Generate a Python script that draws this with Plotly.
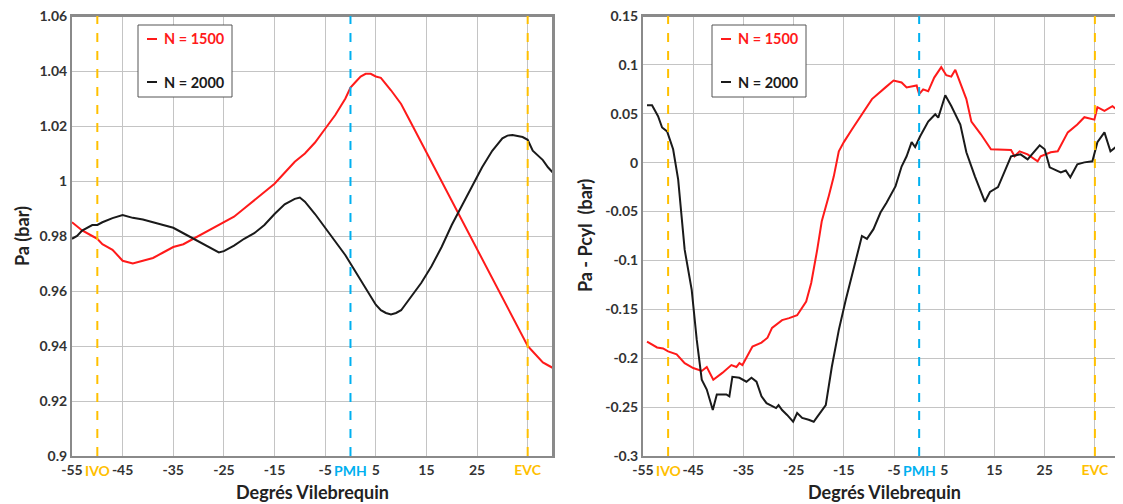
import plotly.graph_objects as go

# ---------------- data ----------------
# Left chart: Pa (bar)
left_x_1500 = [-55, -53, -51, -50, -49, -47, -45, -43, -41, -39, -37, -35, -33, -31, -29, -27, -25, -23, -21, -19,
               -17, -15, -13, -11, -9, -7, -5, -3, -1, 0, 1, 2, 3, 4, 5, 6, 8, 10, 12, 14, 16, 18, 20, 22, 24,
               26, 28, 30, 32, 34, 35, 36, 37, 38, 39, 40]
left_y_1500 = [0.985, 0.982, 0.980, 0.979, 0.977, 0.975, 0.971, 0.970, 0.971, 0.972, 0.974, 0.976, 0.977, 0.979,
               0.981, 0.983, 0.985, 0.987, 0.990, 0.993, 0.996, 0.999, 1.003, 1.007, 1.010, 1.014, 1.019, 1.024,
               1.030, 1.034, 1.036, 1.038, 1.039, 1.039, 1.038, 1.0375, 1.033, 1.028, 1.021, 1.014, 1.007, 1.000,
               0.993, 0.986, 0.979, 0.972, 0.965, 0.958, 0.951, 0.944, 0.940, 0.938, 0.936, 0.934, 0.933, 0.932]

left_x_2000 = [-55, -54, -53, -52, -51, -50, -49, -47, -45, -43, -41, -39, -37, -35, -33, -31, -29, -27, -26, -25,
               -23, -21, -19, -17, -15, -13, -11, -10, -9, -7, -5, -3, -1, 0, 1, 3, 5, 6, 7, 8, 9, 10, 12, 14,
               16, 18, 20, 22, 24, 26, 28, 30, 31, 32, 34, 35, 36, 38, 39, 40]
left_y_2000 = [0.979, 0.980, 0.982, 0.983, 0.984, 0.984, 0.985, 0.9865, 0.9876, 0.9866, 0.986, 0.985, 0.984, 0.983,
               0.981, 0.979, 0.977, 0.975, 0.974, 0.9745, 0.9765, 0.979, 0.981, 0.984, 0.988, 0.9915, 0.9935,
               0.994, 0.9925, 0.988, 0.983, 0.978, 0.973, 0.970, 0.967, 0.961, 0.955, 0.953, 0.952, 0.9515, 0.952,
               0.953, 0.958, 0.963, 0.969, 0.976, 0.984, 0.991, 0.998, 1.005, 1.011, 1.0155, 1.0165, 1.0167,
               1.016, 1.015, 1.011, 1.0076, 1.005, 1.003]

# Right chart: Pa - Pcyl (bar)
right_x_1500 = [-54.2, -52.2, -51, -50, -48.3, -46.7, -45, -43.3, -42.3, -41, -39.2, -37.4, -36.4, -35.8, -35.2,
                -33.2, -31.4, -30.2, -29.3, -27.3, -25.9, -24.3, -22.5, -21.5, -20.3, -19.4, -18, -17, -16, -15,
                -13.4, -11.4, -9.4, -6.7, -5.1, -3.5, -2.5, -0.5, 0, 0.8, 1.8, 3, 4.4, 5.4, 6.4, 7.2, 8.4, 9.4,
                10.4, 12.3, 14.3, 18.3, 19, 20, 21.6, 23.6, 24.2, 26.2, 27.6, 29.6, 31.5, 32.9, 34.9, 35.5, 36.9,
                38.5, 40]
right_y_1500 = [-0.183, -0.189, -0.190, -0.193, -0.196, -0.205, -0.210, -0.213, -0.209, -0.222, -0.215, -0.207,
                -0.209, -0.205, -0.207, -0.188, -0.184, -0.179, -0.169, -0.161, -0.159, -0.156, -0.142, -0.123,
                -0.089, -0.060, -0.034, -0.014, 0.0116, 0.021, 0.034, 0.0495, 0.065, 0.077, 0.084, 0.082, 0.077,
                0.079, 0.070, 0.075, 0.073, 0.087, 0.0977, 0.0895, 0.088, 0.095, 0.078, 0.065, 0.042, 0.029,
                0.0137, 0.013, 0.0065, 0.0116, 0.0085, 0.0014, 0.0065, 0.0106, 0.0116, 0.031, 0.039, 0.0465, 0.044,
                0.0567, 0.053, 0.0577, 0.0516]

right_x_2000 = [-54.2, -53.2, -52, -51.2, -50.2, -49, -48, -47.3, -46.7, -45.3, -44.3, -43.3, -42.3, -41.1, -40.3,
                -38.4, -37.8, -37.2, -35.8, -34.4, -33.4, -32.4, -31.4, -30.4, -28.5, -28, -27.3, -26.3, -25.1,
                -24.3, -23.3, -22, -21, -20.3, -18.6, -17.4, -16, -14.6, -13.4, -12.4, -11.4, -10.4, -9.1, -7.7,
                -6.5, -4.7, -3.5, -2.5, -1.5, -0.8, 0.2, 1.8, 3.2, 3.8, 5.2, 6.4, 8.2, 9.4, 11.1, 13.1, 14.1, 15.7,
                17.1, 18.3, 20.2, 21.6, 24, 25, 26, 27.2, 28.2, 29.2, 30.1, 31.5, 32.9, 34.5, 35.5, 36.9, 38.1,
                39.1, 40]
right_y_2000 = [0.0588, 0.0588, 0.0475, 0.036, 0.032, 0.0137, -0.017, -0.055, -0.089, -0.130, -0.181, -0.222,
                -0.232, -0.253, -0.237, -0.237, -0.239, -0.219, -0.220, -0.224, -0.220, -0.224, -0.239, -0.246,
                -0.251, -0.248, -0.253, -0.258, -0.265, -0.256, -0.261, -0.263, -0.265, -0.260, -0.248, -0.209,
                -0.171, -0.140, -0.115, -0.095, -0.075, -0.078, -0.068, -0.051, -0.041, -0.024, -0.004, 0.0065,
                0.021, 0.016, 0.027, 0.042, 0.0495, 0.046, 0.069, 0.058, 0.039, 0.0106, -0.014, -0.040, -0.030,
                -0.025, -0.009, 0.0065, 0.0085, 0.0034, 0.0178, 0.0137, -0.0048, -0.0078, -0.010, -0.008, -0.015,
                -0.0017, 0.0003, 0.0014, 0.021, 0.031, 0.0116, 0.0157, 0.026]

# Events (crank angle)
event_names = ["IVO", "PMH", "EVC"]
event_angles = [-50, 0, 35]
event_colors = ["#FFC000", "#00B0F0", "#FFC000"]

x_tickvals = [-55, -45, -35, -25, -15, -5, 5, 15, 25, 35]
x_ticktext = ["-55", "-45", "-35", "-25", "-15", "-5", "5", "15", "25",
              '<span style="color:#FFC000">EVC</span>']

left_y_tickvals = [0.9, 0.92, 0.94, 0.96, 0.98, 1.0, 1.02, 1.04, 1.06]
left_y_ticktext = ["0.9", "0.92", "0.94", "0.96", "0.98", "1", "1.02", "1.04", "1.06"]
right_y_tickvals = [-0.3, -0.25, -0.2, -0.15, -0.1, -0.05, 0, 0.05, 0.1, 0.15]
right_y_ticktext = ["-0.3", "-0.25", "-0.2", "-0.15", "-0.1", "-0.05", "0", "0.05", "0.1", "0.15"]

series_names = ["N = 1500", "N = 2000"]
series_colors = ["#FF1A1A", "#1A1A1A"]

FONT = "Lato"
OFF = 8  # page body margin offset
W, H = 1123 - OFF, 504 - OFF


def fx(px):
    return (px - OFF) / W


def fy(py):
    return 1 - (py - OFF) / H


fig = go.Figure()
fig.add_trace(go.Scatter(x=left_x_1500, y=left_y_1500, mode="lines", name=series_names[0],
                         line=dict(color=series_colors[0], width=2), xaxis="x", yaxis="y", showlegend=False))
fig.add_trace(go.Scatter(x=left_x_2000, y=left_y_2000, mode="lines", name=series_names[1],
                         line=dict(color=series_colors[1], width=2), xaxis="x", yaxis="y", showlegend=False))
fig.add_trace(go.Scatter(x=right_x_1500, y=right_y_1500, mode="lines", name=series_names[0],
                         line=dict(color=series_colors[0], width=2), xaxis="x2", yaxis="y2", showlegend=False))
fig.add_trace(go.Scatter(x=right_x_2000, y=right_y_2000, mode="lines", name=series_names[1],
                         line=dict(color=series_colors[1], width=2), xaxis="x2", yaxis="y2", showlegend=False))

ydom = [fy(456), fy(16)]
axis_common = dict(showgrid=True, gridcolor="#C4C4C4", gridwidth=1, zeroline=False, automargin=False,
                   showline=True, linecolor="#8A8A8A", linewidth=2, mirror=True, ticks="",
                   ticklabeloverflow="allow",
                   tickfont=dict(family=FONT, size=14, color="#333333", weight="bold"))

fig.update_layout(
    width=W, height=H,
    margin=dict(l=0, r=0, t=0, b=0),
    paper_bgcolor="white", plot_bgcolor="white",
    showlegend=False,
    xaxis=dict(domain=[fx(72), fx(553)], range=[-55, 40], tickvals=x_tickvals, ticktext=x_ticktext,
               anchor="y", **axis_common),
    yaxis=dict(domain=ydom, range=[0.9, 1.06], tickvals=left_y_tickvals, ticktext=left_y_ticktext,
               anchor="x", **axis_common),
    xaxis2=dict(domain=[fx(643), fx(1120)], range=[-55, 40], tickvals=x_tickvals, ticktext=x_ticktext,
                anchor="y2", **axis_common),
    yaxis2=dict(domain=ydom, range=[-0.3, 0.15], tickvals=right_y_tickvals, ticktext=right_y_ticktext,
                anchor="x2", **axis_common),
)

shapes = []
annotations = []
for xa, ya in [("x", "y"), ("x2", "y2")]:
    # top and right border of the plot frame
    shapes.append(dict(type="line", xref=xa + " domain", yref=ya + " domain", x0=0, x1=1, y0=1, y1=1,
                       line=dict(color="#8A8A8A", width=2)))
    shapes.append(dict(type="line", xref=xa + " domain", yref=ya + " domain", x0=1, x1=1, y0=0, y1=1,
                       line=dict(color="#8A8A8A", width=2)))
    for name, ang, col in zip(event_names, event_angles, event_colors):
        shapes.append(dict(type="line", xref=xa, yref=ya + " domain", x0=ang, x1=ang, y0=0, y1=1,
                           line=dict(color=col, width=2, dash="dash")))
        if name != "EVC":
            annotations.append(dict(x=ang, y=-0.034, xref=xa, yref=ya + " domain", text=f"<b>{name}</b>",
                                    showarrow=False, font=dict(family=FONT, size=14, color=col),
                                    xanchor="center", yanchor="middle"))

# manual legends (in axis-domain coordinates)
legend_boxes = [("x", "y", 138, 232, 72, 481), ("x2", "y2", 712, 806, 643, 477)]
for xa, ya, bx0, bx1, ox, ow in legend_boxes:
    dom = lambda px: (px - ox) / ow
    ydomf = lambda py: (456 - py) / 440
    shapes.append(dict(type="rect", xref=xa + " domain", yref=ya + " domain",
                       x0=dom(bx0), x1=dom(bx1), y0=ydomf(97), y1=ydomf(25),
                       line=dict(color="#555555", width=1), fillcolor="white", layer="above"))
    for i, (nm, col) in enumerate(zip(series_names, series_colors)):
        py = 39 if i == 0 else 82
        shapes.append(dict(type="line", xref=xa + " domain", yref=ya + " domain",
                           x0=dom(bx0 + 9), x1=dom(bx0 + 19), y0=ydomf(py), y1=ydomf(py),
                           line=dict(color=col, width=2), layer="above"))
        annotations.append(dict(x=dom(bx0 + 24), y=ydomf(py), xref=xa + " domain", yref=ya + " domain",
                                text=f"<b>{nm}</b>", showarrow=False, xanchor="left", yanchor="middle",
                                font=dict(family=FONT, size=14.5, color=col)))

# axis titles
title_font = dict(family=FONT, size=18, color="#222222")
annotations += [
    dict(x=fx(312), y=fy(492), xref="paper", yref="paper", text="<b>Degrés Vilebrequin</b>",
         showarrow=False, font=title_font, xanchor="center", yanchor="middle"),
    dict(x=fx(884), y=fy(492), xref="paper", yref="paper", text="<b>Degrés Vilebrequin</b>",
         showarrow=False, font=title_font, xanchor="center", yanchor="middle"),
    dict(x=fx(22), y=fy(236), xref="paper", yref="paper", text="<b>Pa (bar)</b>", textangle=-90,
         showarrow=False, font=title_font, xanchor="center", yanchor="middle"),
    dict(x=fx(585), y=fy(236), xref="paper", yref="paper", text="<b>Pa - Pcyl  (bar)</b>", textangle=-90,
         showarrow=False, font=title_font, xanchor="center", yanchor="middle"),
]

fig.update_layout(shapes=shapes, annotations=annotations)
fig.write_html("out.html")
